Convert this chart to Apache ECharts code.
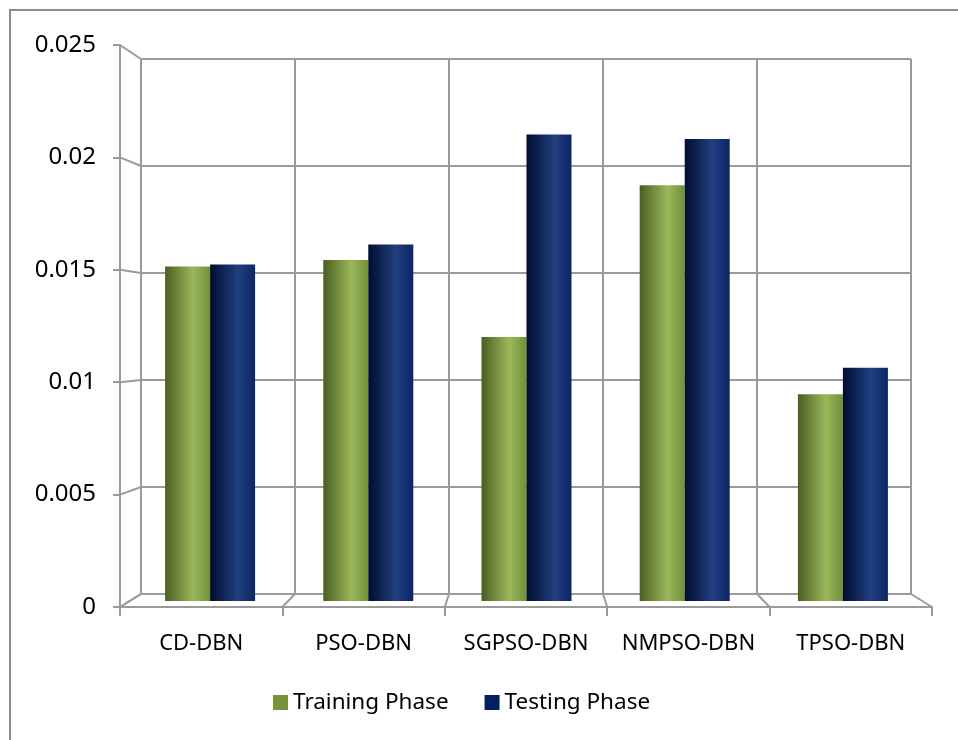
<!DOCTYPE html>
<html>
<head>
<meta charset="utf-8">
<script src="https://cdn.jsdelivr.net/npm/echarts@6/dist/echarts.min.js"></script>
<style>
  html, body { margin: 0; padding: 0; background: #fff; }
  #chart { width: 958px; height: 740px; }
</style>
</head>
<body>
<div id="chart"></div>
<script>
// Error of each DBN variant in the training and testing phases
const categories = ['CD-DBN', 'PSO-DBN', 'SGPSO-DBN', 'NMPSO-DBN', 'TPSO-DBN'];
const trainingPhase = [0.0152, 0.0155, 0.0120, 0.0189, 0.0094];
const testingPhase  = [0.0153, 0.0162, 0.0212, 0.0210, 0.0106];
const yMin = 0, yMax = 0.025, yStep = 0.005;
const seriesNames = ['Training Phase', 'Testing Phase'];

// Three stacked grids give the pseudo-3D look: back wall, bar plane, front axes
const back  = { left: 141, top: 59, width: 770, height: 535 };
const bars  = { left: 131, top: 51, width: 791, height: 550 };
const front = { left: 120, top: 45, width: 812, height: 562 };

const FONT = 'Noto Sans';
const GRID_COLOR = '#9a9a9a';

function cylinder(dark, light, mid) {
  return {
    type: 'linear', x: 0, y: 0, x2: 1, y2: 0,
    colorStops: [
      { offset: 0, color: dark },
      { offset: 0.62, color: light },
      { offset: 1, color: mid }
    ]
  };
}

const chart = echarts.init(document.getElementById('chart'));

chart.setOption({
  backgroundColor: '#fff',
  animation: false,
  grid: [
    Object.assign({ outerBoundsMode: 'none', containLabel: false }, back),
    Object.assign({ outerBoundsMode: 'none', containLabel: false }, bars),
    Object.assign({ outerBoundsMode: 'none', containLabel: false }, front)
  ],
  xAxis: [
    { gridIndex: 0, type: 'value', min: 0, max: categories.length, interval: 1,
      axisLine: { show: false }, axisTick: { show: false }, axisLabel: { show: false },
      splitLine: { show: true, lineStyle: { color: GRID_COLOR, width: 2 } } },
    { gridIndex: 1, type: 'category', data: categories,
      axisLine: { show: false }, axisTick: { show: false }, axisLabel: { show: false },
      splitLine: { show: false } },
    { gridIndex: 2, type: 'category', data: categories, position: 'bottom',
      axisLine: { show: true, lineStyle: { color: GRID_COLOR, width: 2 } },
      axisTick: { show: true, length: 9, interval: 0, lineStyle: { color: GRID_COLOR, width: 2 } },
      axisLabel: { show: true, interval: 0, color: '#000', fontFamily: FONT, fontSize: 22, margin: 26 },
      splitLine: { show: false } }
  ],
  yAxis: [
    { gridIndex: 0, type: 'value', min: yMin, max: yMax, interval: yStep,
      axisLine: { show: false }, axisTick: { show: false }, axisLabel: { show: false },
      splitLine: { show: true, lineStyle: { color: GRID_COLOR, width: 2 } } },
    { gridIndex: 1, type: 'value', min: yMin, max: yMax, interval: yStep,
      axisLine: { show: false }, axisTick: { show: false }, axisLabel: { show: false },
      splitLine: { show: false } },
    { gridIndex: 2, type: 'value', min: yMin, max: yMax, interval: yStep,
      axisLine: { show: true, lineStyle: { color: GRID_COLOR, width: 2 } },
      axisTick: { show: true, length: 7, lineStyle: { color: GRID_COLOR, width: 2 } },
      axisLabel: { show: true, color: '#000', fontFamily: FONT, fontSize: 24, margin: 24 },
      splitLine: { show: false } }
  ],
  legend: {
    left: 268, top: 686,
    icon: 'rect', itemWidth: 15, itemHeight: 15, itemGap: 36,
    textStyle: { color: '#000', fontFamily: FONT, fontSize: 22.5 },
    data: [
      { name: seriesNames[0], itemStyle: { color: '#77933C' } },
      { name: seriesNames[1], itemStyle: { color: '#002060' } }
    ]
  },
  series: [
    { name: seriesNames[0], type: 'bar', xAxisIndex: 1, yAxisIndex: 1,
      data: trainingPhase, barWidth: 45, barGap: '0%',
      itemStyle: { color: cylinder('#4a5e22', '#9bb85a', '#738f3a') } },
    { name: seriesNames[1], type: 'bar', xAxisIndex: 1, yAxisIndex: 1,
      data: testingPhase, barWidth: 45, barGap: '0%',
      itemStyle: { color: cylinder('#000d30', '#21407f', '#0b2565') } }
  ]
});

// Depth connectors between the front axes and the back wall
const lineStyle = { stroke: GRID_COLOR, lineWidth: 2 };
const graphics = [];
const n = categories.length;
const frontBottom = chart.convertToPixel({ gridIndex: 2 }, [0, yMin])[1];
const backBottom = chart.convertToPixel({ gridIndex: 0 }, [0, yMin])[1];
for (let i = 0; i <= n; i++) {
  const fx = front.left + front.width * i / n;
  const bx = chart.convertToPixel({ gridIndex: 0 }, [i, yMin])[0];
  graphics.push({ type: 'line', shape: { x1: fx, y1: frontBottom, x2: bx, y2: backBottom }, style: lineStyle, silent: true });
}
const backLeft = chart.convertToPixel({ gridIndex: 0 }, [0, yMin])[0];
for (let v = yMin; v <= yMax + 1e-9; v += yStep) {
  const fy = chart.convertToPixel({ gridIndex: 2 }, [0, v])[1];
  const by = chart.convertToPixel({ gridIndex: 0 }, [0, v])[1];
  graphics.push({ type: 'line', shape: { x1: front.left, y1: fy, x2: backLeft, y2: by }, style: lineStyle, silent: true });
}
// Chart area frame
graphics.push({ type: 'rect', shape: { x: 10, y: 10, width: 1200, height: 1200 },
  style: { fill: null, stroke: '#8c8c8c', lineWidth: 2 }, silent: true });
chart.setOption({ graphic: graphics });
</script>
</body>
</html>
